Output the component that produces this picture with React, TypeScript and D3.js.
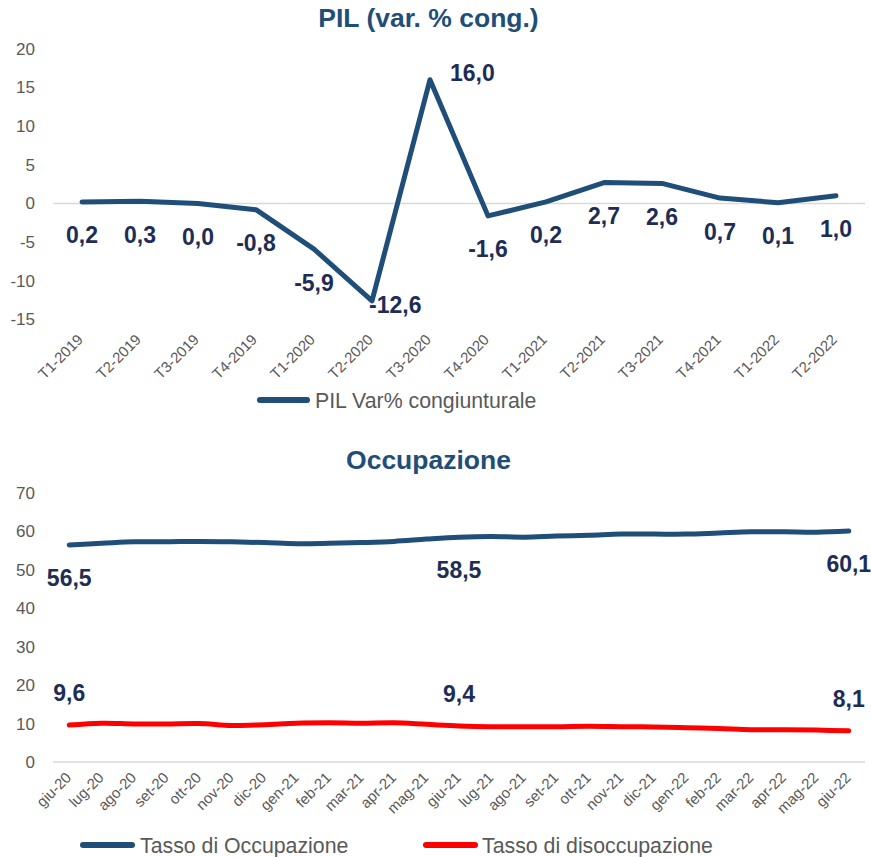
import React from "react";
import * as d3 from "d3";

// ---------- Data ----------
const quarters = [
  "T1-2019", "T2-2019", "T3-2019", "T4-2019",
  "T1-2020", "T2-2020", "T3-2020", "T4-2020",
  "T1-2021", "T2-2021", "T3-2021", "T4-2021",
  "T1-2022", "T2-2022",
];
const pilValues = [0.2, 0.3, 0.0, -0.8, -5.9, -12.6, 16.0, -1.6, 0.2, 2.7, 2.6, 0.7, 0.1, 1.0];
const pilTicks = [20, 15, 10, 5, 0, -5, -10, -15];

const months = [
  "giu-20", "lug-20", "ago-20", "set-20", "ott-20", "nov-20", "dic-20",
  "gen-21", "feb-21", "mar-21", "apr-21", "mag-21", "giu-21", "lug-21",
  "ago-21", "set-21", "ott-21", "nov-21", "dic-21", "gen-22", "feb-22",
  "mar-22", "apr-22", "mag-22", "giu-22",
];
const occupazione = [
  56.5, 56.9, 57.3, 57.3, 57.4, 57.3, 57.1, 56.8, 56.9, 57.1, 57.4, 58.0, 58.5,
  58.7, 58.5, 58.8, 59.0, 59.3, 59.3, 59.3, 59.6, 59.9, 59.9, 59.8, 60.1,
];
const disoccupazione = [
  9.6, 10.1, 9.9, 9.9, 10.0, 9.5, 9.7, 10.1, 10.2, 10.1, 10.2, 9.8, 9.4,
  9.2, 9.2, 9.2, 9.3, 9.2, 9.1, 8.9, 8.7, 8.4, 8.4, 8.3, 8.1,
];
const occTicks = [70, 60, 50, 40, 30, 20, 10, 0];
const labelledMonths = ["giu-20", "giu-21", "giu-22"];

const pilLegend = "PIL Var% congiunturale";
const occLegend = ["Tasso di Occupazione", "Tasso di disoccupazione"];

// ---------- Styles ----------
const FONT = "'Liberation Sans', Arial, Helvetica, sans-serif";
const NAVY = "#1F4E79";
const LABEL = "#1E2D55";
const RED = "#FF0000";
const GRAY_TEXT = "#595959";
const AXIS = "#D9D9D9";

const fmt = (v: number) => v.toFixed(1).replace(".", ",");

// special placement for extreme labels (relative offsets)
const pilLabelOffsets: Record<number, { dx: number; dy: number; anchor: string }> = {
  5: { dx: -3, dy: 4.5, anchor: "start" },
  6: { dx: 20, dy: -6.5, anchor: "start" },
};

export default function App() {
  const W = 871;
  const H = 857;

  // Top chart scales
  const x1 = d3.scalePoint<string>().domain(quarters).range([53, 865]).padding(0.5);
  const y1 = d3.scaleLinear().domain([-15, 20]).range([319.5, 48.8]);
  const line1 = d3
    .line<number>()
    .x((_, i) => x1(quarters[i]) as number)
    .y((d) => y1(d))
    .curve(d3.curveLinear);

  // Bottom chart scales
  const x2 = d3.scalePoint<string>().domain(months).range([53, 865]).padding(0.5);
  const y2 = d3.scaleLinear().domain([0, 70]).range([762, 493]);
  const line2 = d3
    .line<number>()
    .x((_, i) => x2(months[i]) as number)
    .y((d) => y2(d))
    .curve(d3.curveCatmullRom.alpha(0.5));

  return (
    <svg
      width={W}
      height={H}
      style={{ position: "absolute", left: 0, top: 0, background: "#fff" }}
      fontFamily={FONT}
    >
      {/* ---------------- Top chart ---------------- */}
      <text x={428.5} y={27} textAnchor="middle" fontSize={26.5} fontWeight="bold" fill={NAVY}>
        PIL (var. % cong.)
      </text>
      {pilTicks.map((t) => (
        <text key={"yt1" + t} x={35} y={y1(t)} dy="0.35em" textAnchor="end" fontSize={17} fill={GRAY_TEXT}>
          {t}
        </text>
      ))}
      <line x1={53} x2={865} y1={y1(0)} y2={y1(0)} stroke={AXIS} strokeWidth={1.5} />
      {quarters.map((q) => (
        <text
          key={"xt1" + q}
          transform={`translate(${(x1(q) as number) + 2},${340.5}) rotate(-45)`}
          textAnchor="end"
          fontSize={15}
          fill={GRAY_TEXT}
        >
          {q}
        </text>
      ))}
      <path d={line1(pilValues) || ""} fill="none" stroke={NAVY} strokeWidth={5} strokeLinejoin="round" strokeLinecap="round" />
      {pilValues.map((v, i) => {
        const px = x1(quarters[i]) as number;
        const py = y1(v);
        const off = pilLabelOffsets[i];
        return (
          <text
            key={"l1" + i}
            x={off ? px + off.dx : px}
            y={off ? py + off.dy : py + 33.5}
            dy="0.35em"
            textAnchor={off ? off.anchor : "middle"}
            fontSize={23}
            fontWeight="bold"
            fill={LABEL}
          >
            {fmt(v)}
          </text>
        );
      })}
      {/* legend top */}
      <line x1={260} x2={307} y1={400} y2={400} stroke={NAVY} strokeWidth={6} strokeLinecap="round" />
      <text x={315} y={408} fontSize={21.3} fill={GRAY_TEXT}>
        {pilLegend}
      </text>

      {/* ---------------- Bottom chart ---------------- */}
      <text x={428.5} y={469} textAnchor="middle" fontSize={26.5} fontWeight="bold" fill={NAVY}>
        Occupazione
      </text>
      {occTicks.map((t) => (
        <text key={"yt2" + t} x={35} y={y2(t)} dy="0.35em" textAnchor="end" fontSize={17} fill={GRAY_TEXT}>
          {t}
        </text>
      ))}
      <line x1={53} x2={865} y1={y2(0)} y2={y2(0)} stroke={AXIS} strokeWidth={1.5} />
      {months.map((m) => (
        <text
          key={"xt2" + m}
          transform={`translate(${(x2(m) as number) + 3},${778.5}) rotate(-45)`}
          textAnchor="end"
          fontSize={15}
          fill={GRAY_TEXT}
        >
          {m}
        </text>
      ))}
      <path d={line2(occupazione) || ""} fill="none" stroke={NAVY} strokeWidth={5} strokeLinecap="round" />
      <path d={line2(disoccupazione) || ""} fill="none" stroke={RED} strokeWidth={5} strokeLinecap="round" />
      {months.map((m, i) =>
        labelledMonths.includes(m) ? (
          <g key={"l2" + m}>
            <text
              x={x2(m) as number}
              y={y2(occupazione[i]) + 33}
              dy="0.35em"
              textAnchor="middle"
              fontSize={23}
              fontWeight="bold"
              fill={LABEL}
            >
              {fmt(occupazione[i])}
            </text>
            <text
              x={x2(m) as number}
              y={y2(disoccupazione[i]) - 32}
              dy="0.35em"
              textAnchor="middle"
              fontSize={23}
              fontWeight="bold"
              fill={LABEL}
            >
              {fmt(disoccupazione[i])}
            </text>
          </g>
        ) : null
      )}
      {/* legend bottom */}
      <line x1={83} x2={132} y1={845} y2={845} stroke={NAVY} strokeWidth={6} strokeLinecap="round" />
      <text x={140} y={852.5} fontSize={21.3} fill={GRAY_TEXT}>
        {occLegend[0]}
      </text>
      <line x1={426} x2={475} y1={845} y2={845} stroke={RED} strokeWidth={6} strokeLinecap="round" />
      <text x={482} y={852.5} fontSize={21.3} fill={GRAY_TEXT}>
        {occLegend[1]}
      </text>
    </svg>
  );
}
